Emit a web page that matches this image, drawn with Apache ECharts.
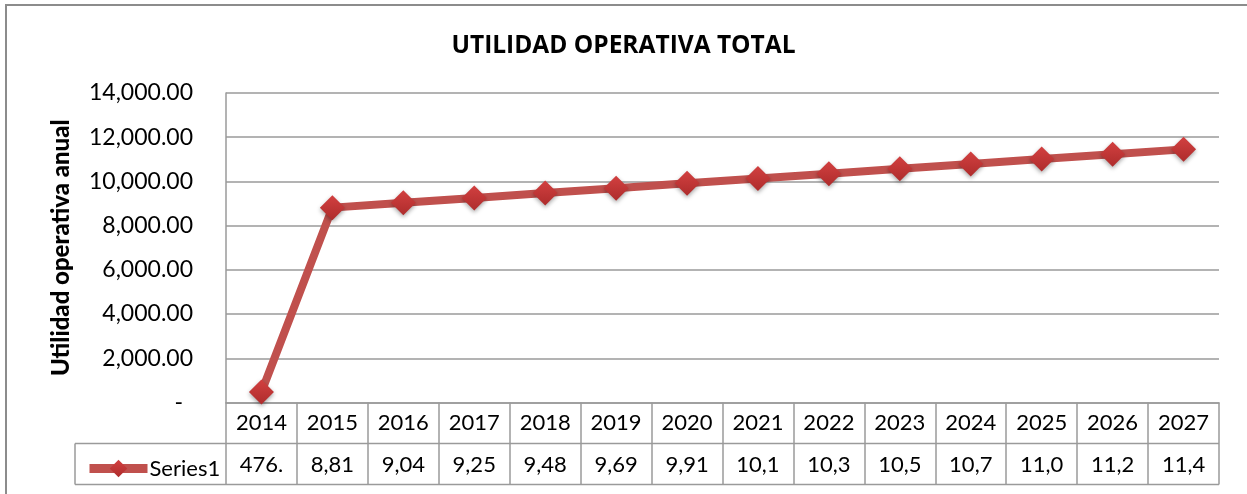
<!DOCTYPE html>
<html>
	<head>
		<meta charset="UTF-8">
		<title>Utilidad operativa total</title>
		<script src="https://cdn.jsdelivr.net/npm/echarts@6/dist/echarts.min.js"></script>
		<style type="text/css">
			html,body{
				margin: 0;
				padding: 0;
				background: #fff;
			}
			#main{
				width: 1247px;
				height: 494px;
			}
		</style>
	</head>
	<body>
		<div id="main"></div>
		<script type="text/javascript">
			// datos
			var years = ['2014','2015','2016','2017','2018','2019','2020','2021','2022','2023','2024','2025','2026','2027'];
			var utilidad = [476, 8815, 9040, 9255, 9480, 9695, 9915, 10130, 10350, 10570, 10790, 11010, 11230, 11450];
			var yTicks = [0, 2000, 4000, 6000, 8000, 10000, 12000, 14000];

			// layout
			var gLeft = 226, gRight = 1219, gTop = 93, gBottom = 402.5;
			var rowH = 41;
			var gray = '#9a9a9a';

			function fmt(v){
				return v.toLocaleString('en-US', {minimumFractionDigits: 2, maximumFractionDigits: 2});
			}
			// la celda de la tabla es estrecha: Excel corta el texto
			var tablaValores = utilidad.map(function(v){ return fmt(v).slice(0, 4); });

			var myChart = echarts.init(document.getElementById('main'));
			var option = {
				animation: false,
				title: {
					text: 'UTILIDAD OPERATIVA TOTAL',
					left: 'center',
					top: 29,
					textStyle: {
						fontFamily: 'Open Sans',
						fontWeight: 'bold',
						fontSize: 24.5,
						color: '#000'
					}
				},
				legend: {
					left: 80,
					top: gBottom + rowH + 9,
					itemWidth: 58,
					itemHeight: 22,
					itemGap: 5,
					lineStyle: {width: 9},
					textStyle: {
						fontFamily: 'Lato',
						fontSize: 22,
						color: '#000',
						padding: [0, 0, 0, -3]
					},
					data: ['Series1']
				},
				grid: {
					left: gLeft,
					right: 1247 - gRight,
					top: gTop,
					bottom: 494 - gBottom
				},
				xAxis: [
					{
						type: 'category',
						data: years,
						boundaryGap: true,
						axisLine: {lineStyle: {color: gray, width: 1.5}},
						axisTick: {show: true, interval: 0, length: rowH * 2, lineStyle: {color: gray, width: 1.5}},
						axisLabel: {
							interval: 0,
							margin: 9,
							fontFamily: 'Lato',
							fontSize: 22,
							color: '#000'
						}
					},
					{
						type: 'category',
						data: tablaValores,
						position: 'bottom',
						offset: rowH,
						boundaryGap: true,
						axisLine: {show: false},
						axisTick: {show: false},
						axisLabel: {
							interval: 0,
							margin: 10,
							fontFamily: 'Lato',
							fontSize: 22,
							color: '#000'
						}
					}
				],
				yAxis: {
					type: 'value',
					min: yTicks[0],
					max: yTicks[yTicks.length - 1],
					interval: yTicks[1] - yTicks[0],
					name: 'Utilidad operativa anual',
					nameLocation: 'middle',
					nameRotate: 90,
					nameGap: 153,
					nameTextStyle: {
						fontFamily: 'Lato',
						fontWeight: 900,
						fontSize: 24,
						color: '#000'
					},
					axisLine: {show: true, lineStyle: {color: gray, width: 1.5}},
					axisTick: {show: false},
					splitLine: {lineStyle: {color: gray, width: 1.5}},
					axisLabel: {
						margin: 33,
						fontFamily: 'Lato',
						fontSize: 23,
						color: '#000',
						formatter: function(v){
							return v === 0 ? '{d|-}' : fmt(v);
						},
						rich: {
							d: {fontFamily: 'Lato', fontSize: 23, color: '#000', padding: [0, 10, 0, 0]}
						}
					}
				},
				series: [
					{
						name: 'Series1',
						type: 'line',
						data: utilidad,
						symbol: 'diamond',
						symbolSize: 25,
						lineStyle: {color: '#c0504d', width: 8},
						itemStyle: {
							color: new echarts.graphic.LinearGradient(0, 0, 0, 1, [
								{offset: 0, color: '#d24040'},
								{offset: 1, color: '#ae2c2c'}
							]),
							shadowBlur: 4,
							shadowOffsetY: 2,
							shadowColor: 'rgba(0,0,0,0.35)'
						}
					}
				],
				graphic: [
					{
						type: 'rect',
						shape: {x: 6, y: 5, width: 1300, height: 600},
						style: {fill: 'none', stroke: '#8c8c8c', lineWidth: 2},
						silent: true
					},
					{
						type: 'line',
						shape: {x1: 75, y1: gBottom + rowH, x2: gRight, y2: gBottom + rowH},
						style: {stroke: gray, lineWidth: 1.5}
					},
					{
						type: 'line',
						shape: {x1: 75, y1: gBottom + rowH * 2, x2: gRight, y2: gBottom + rowH * 2},
						style: {stroke: gray, lineWidth: 1.5}
					},
					{
						type: 'line',
						shape: {x1: 75, y1: gBottom + rowH, x2: 75, y2: gBottom + rowH * 2},
						style: {stroke: gray, lineWidth: 1.5}
					}
				]
			};
			myChart.setOption(option);
		</script>
	</body>
</html>
